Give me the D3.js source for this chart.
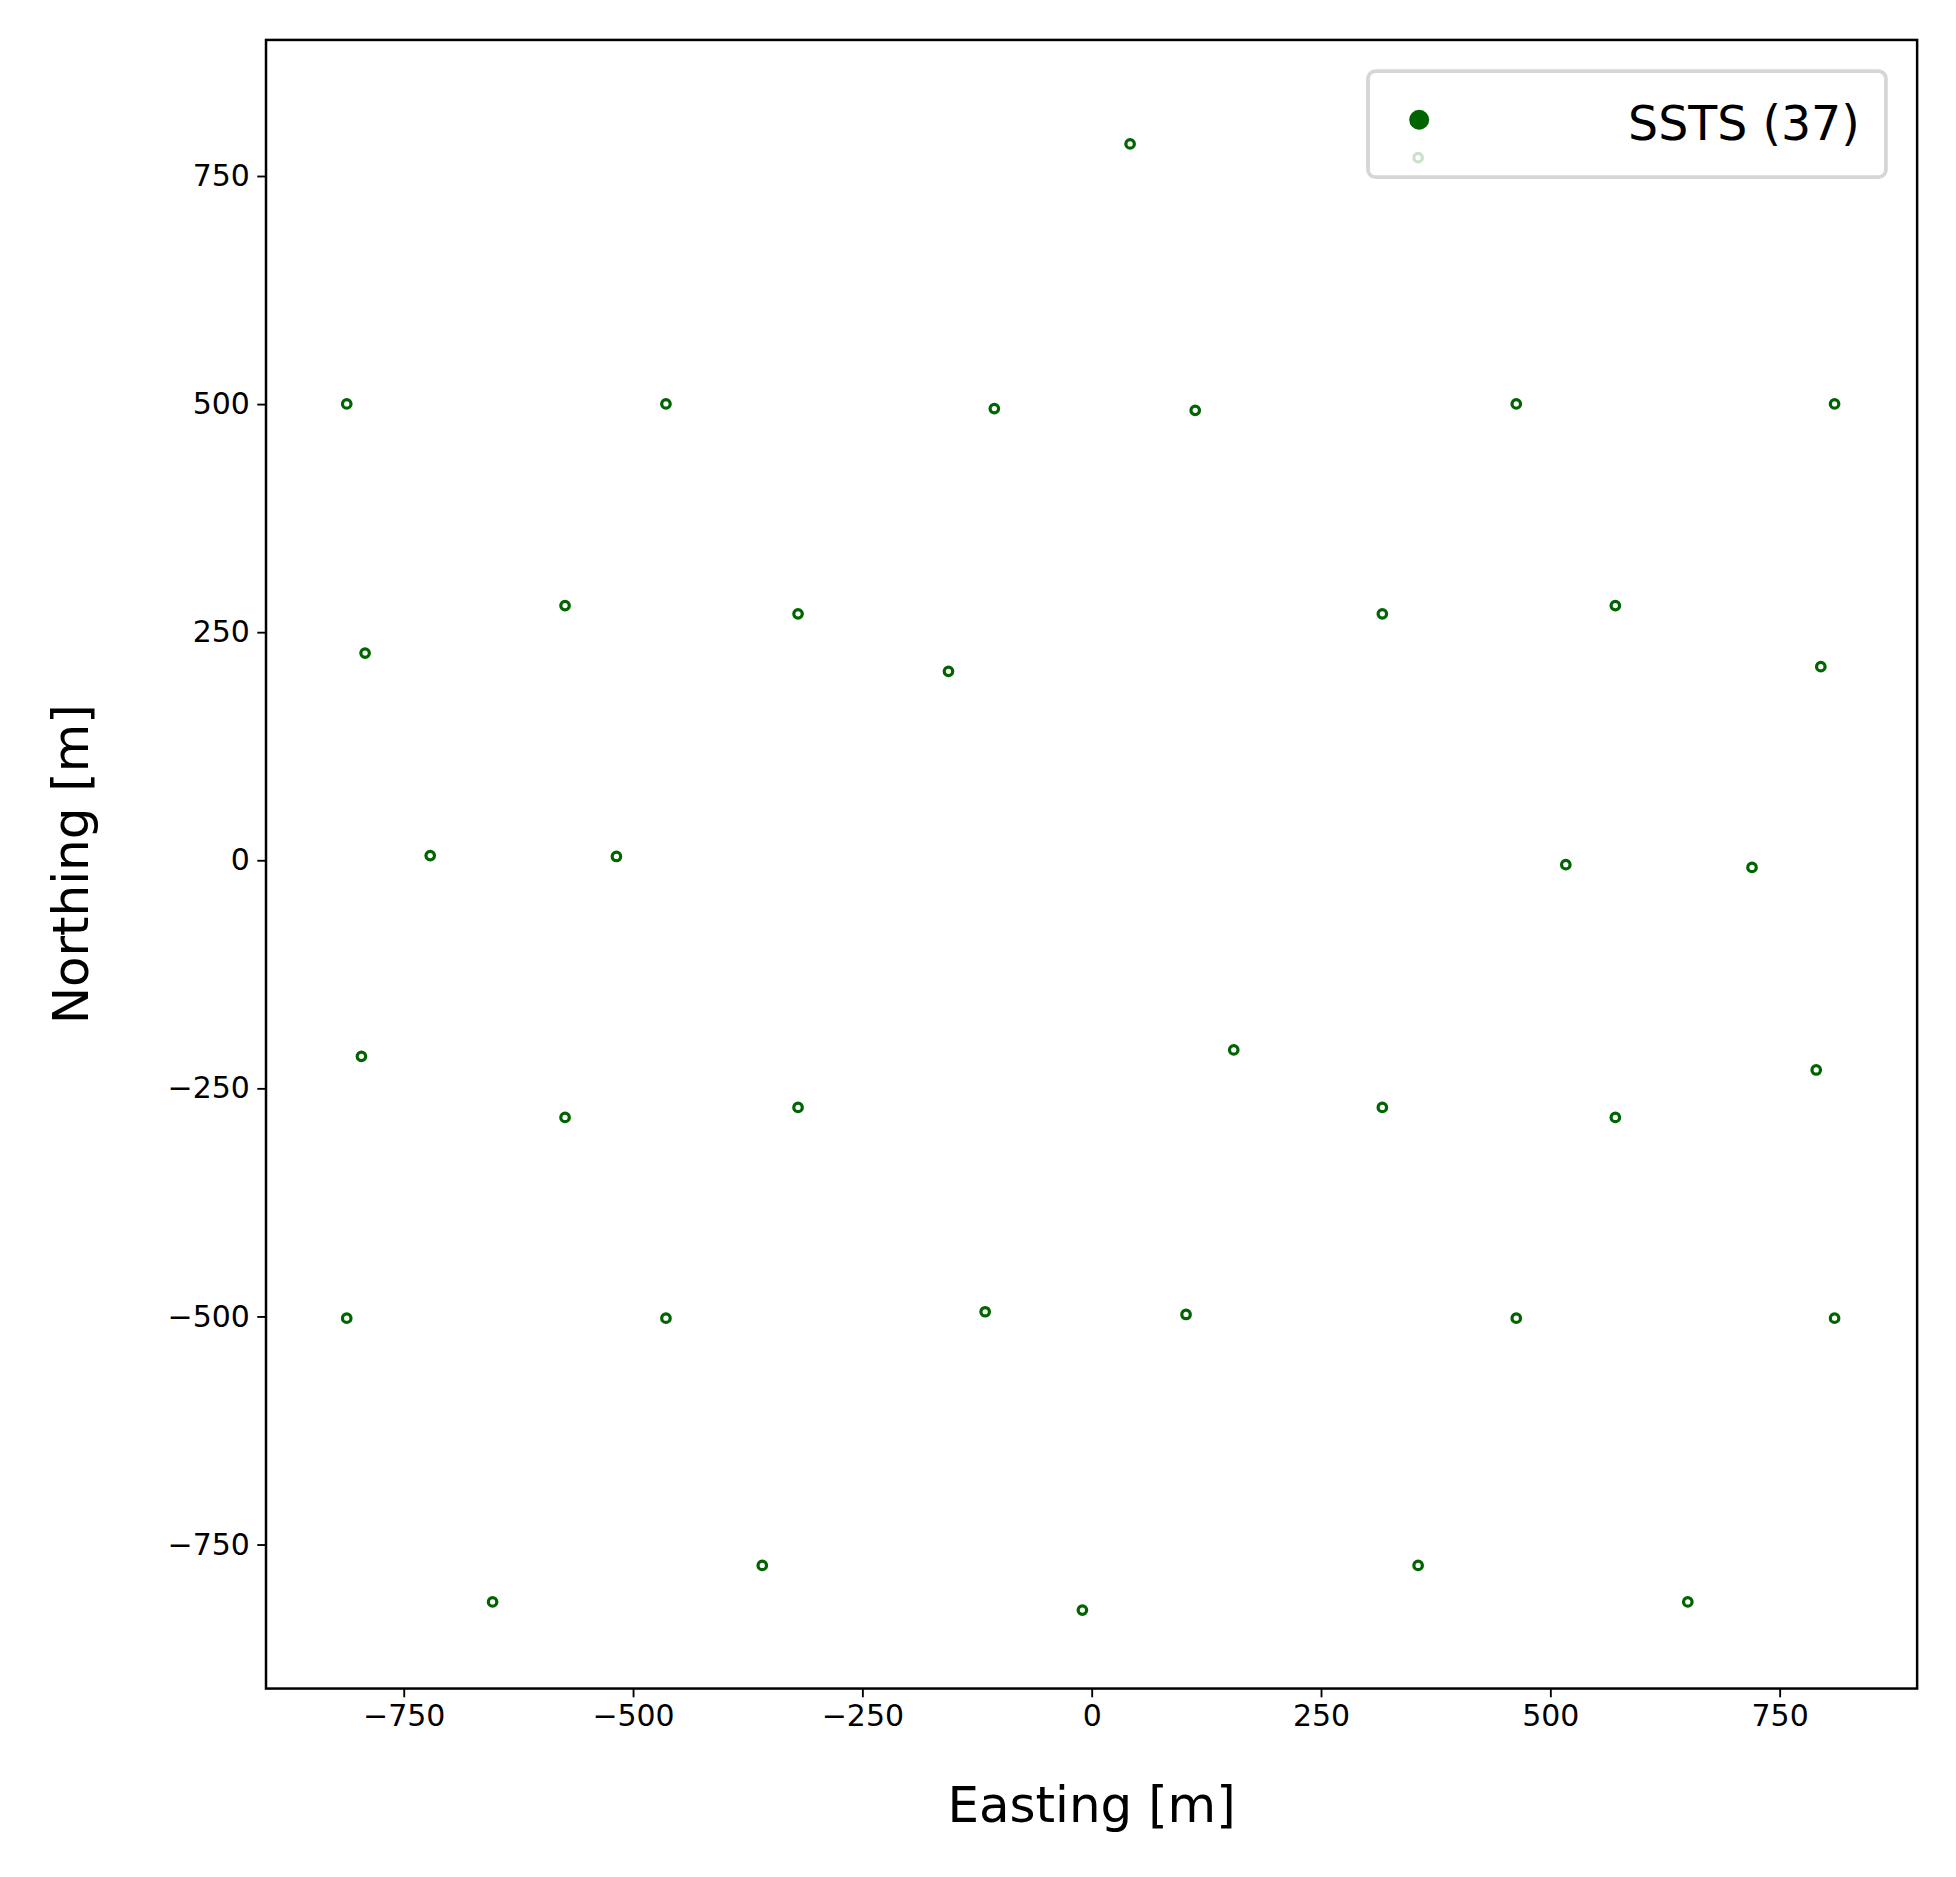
<!DOCTYPE html>
<html><head><meta charset="utf-8">
<script src="https://cdn.jsdelivr.net/npm/d3@7"></script>
<style>body{margin:0;background:#fff}text{font-family:"DejaVu Sans",sans-serif}</style>
</head><body>
<script>
const eastings = [42,-812,-464,-106,113,463,810,-574,-320,317,571,-792,-156,795,-721,-518,517,720,-796,155,790,-574,-320,317,571,-812,-464,-116,103,463,810,-653,-359,-10,356,650,356];
const northings = [785,500,500,495,493,500,500,279,270,270,279,227,207,212,5,4,-5,-8,-215,-208,-230,-282,-271,-271,-282,-502,-502,-495,-498,-502,-502,-813,-773,-822,-773,-813,770];
const xTicks = [-750,-500,-250,0,250,500,750];
const yTicks = [-750,-500,-250,0,250,500,750];
const legendLabel = "SSTS (37)";

const svg = d3.select("body").append("svg").attr("width",1956).attr("height",1877).attr("viewBox","0 0 1567 1504");
const L=213,R=1536,T=32,B=1353;
const x = d3.scaleLinear().domain([-900,900]).range([L,R]);
const y = d3.scaleLinear().domain([-908,899]).range([B,T]);
const fmt = d=> d<0 ? "\u2212"+Math.abs(d) : ""+d;

svg.append("g").attr("transform",`translate(0,${B})`).call(d3.axisBottom(x).tickValues(xTicks).tickFormat(fmt).tickSize(7).tickPadding(6))
 .call(g=>{g.select(".domain").remove();g.selectAll("text").attr("font-size",24).attr("font-family","DejaVu Sans");g.selectAll("line").attr("stroke-width",1.5);});
svg.append("g").attr("transform",`translate(${L},0)`).call(d3.axisLeft(y).tickValues(yTicks).tickFormat(fmt).tickSize(7).tickPadding(6))
 .call(g=>{g.select(".domain").remove();g.selectAll("text").attr("font-size",24).attr("font-family","DejaVu Sans");g.selectAll("line").attr("stroke-width",1.5);});

const pts = eastings.map((e,i)=>({e,n:northings[i]}));
svg.append("g").selectAll("circle").data(pts).join("circle")
 .attr("cx",d=>x(d.e)).attr("cy",d=>y(d.n)).attr("r",3.4)
 .attr("fill","white").attr("stroke","#006400").attr("stroke-width",2.6);

svg.append("rect").attr("x",L).attr("y",T).attr("width",R-L).attr("height",B-T).attr("fill","none").attr("stroke","black").attr("stroke-width",2);

svg.append("text").attr("x",(L+R)/2).attr("y",1460).attr("text-anchor","middle").attr("font-size",40).text("Easting [m]");
svg.append("text").attr("transform",`translate(70,${(T+B)/2}) rotate(-90)`).attr("text-anchor","middle").attr("font-size",40).text("Northing [m]");

const lg = svg.append("g");
lg.append("rect").attr("x",1096).attr("y",57).attr("width",415).attr("height",85).attr("rx",6)
 .attr("fill","white").attr("fill-opacity",0.8).attr("stroke","#d6d6d6").attr("stroke-width",3);
lg.append("circle").attr("cx",1137).attr("cy",96).attr("r",8).attr("fill","#006400");
lg.append("text").attr("x",1490).attr("y",112).attr("text-anchor","end").attr("font-size",38).text(legendLabel);
</script>
</body></html>
